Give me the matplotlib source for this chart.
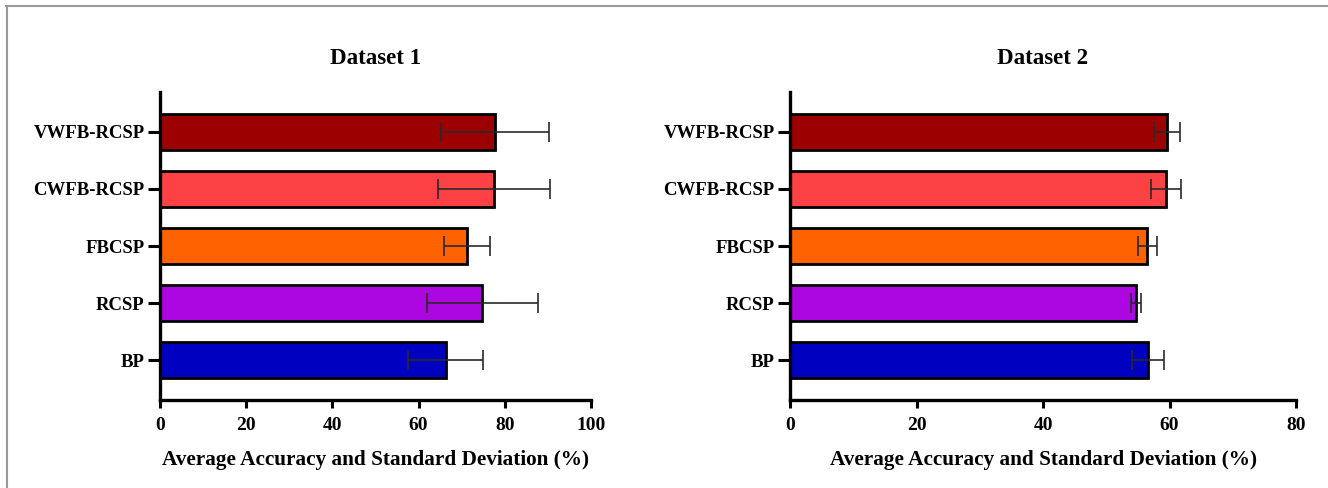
import matplotlib
matplotlib.use("Agg")
import matplotlib.pyplot as plt
from matplotlib.lines import Line2D

methods = ["BP", "RCSP", "FBCSP", "CWFB-RCSP", "VWFB-RCSP"]
colors = ["#0000c0", "#ac07e0", "#ff6200", "#fc4245", "#9c0000"]

d1_mean = [66.3, 74.8, 71.3, 77.5, 77.8]
d1_std = [8.7, 12.9, 5.3, 12.9, 12.5]
d2_mean = [56.6, 54.7, 56.5, 59.4, 59.6]
d2_std = [2.5, 0.75, 1.5, 2.4, 2.1]

titles = ["Dataset 1", "Dataset 2"]
xlabel = "Average Accuracy and Standard Deviation (%)"
xlims = [100, 80]
xticks = [[0, 20, 40, 60, 80, 100], [0, 20, 40, 60, 80]]

plt.rcParams["font.family"] = ["Liberation Serif", "DejaVu Serif"]
plt.rcParams["font.weight"] = "bold"

W, H = 1328, 488
fig = plt.figure(figsize=(W / 100, H / 100), dpi=100)

boxes = [(160, 591), (790, 1296)]
top_px, bot_px = 92, 400
data = [(d1_mean, d1_std), (d2_mean, d2_std)]

for i, ((x0, x1), (m, s)) in enumerate(zip(boxes, data)):
    ax = fig.add_axes([x0 / W, 1 - bot_px / H, (x1 - x0) / W, (bot_px - top_px) / H])
    y = list(range(len(methods)))
    ax.barh(y, m, height=0.63, color=colors, edgecolor="black", linewidth=2.0, zorder=2)
    ax.errorbar(m, y, xerr=s, fmt="none", ecolor="#2a2a2a", elinewidth=1.2,
                capsize=7, capthick=1.2, zorder=3)
    ax.set_xlim(0, xlims[i])
    ax.set_ylim(-0.7, 4.7)
    ax.set_yticks(y)
    ax.set_yticklabels(methods, fontsize=13.5, fontweight="bold")
    ax.set_xticks(xticks[i])
    ax.set_xticklabels([str(t) for t in xticks[i]], fontsize=14, fontweight="bold")
    for side in ["top", "right"]:
        ax.spines[side].set_visible(False)
    for side in ["left", "bottom"]:
        ax.spines[side].set_linewidth(2.4)
    ax.tick_params(axis="x", length=5.5, width=2.2, pad=7, direction="out")
    ax.tick_params(axis="y", length=9, width=2.2, pad=2, direction="out")
    ax.set_xlabel(xlabel, fontsize=15.3, fontweight="bold", labelpad=11)
    ax.set_title(titles[i], fontsize=16.5, fontweight="bold", pad=20)

# gray border at top and left
fig.add_artist(Line2D([6 / W, 1.0], [1 - 6 / H, 1 - 6 / H], transform=fig.transFigure,
                      color="#999999", linewidth=1.5))
fig.add_artist(Line2D([7 / W, 7 / W], [0, 1 - 6 / H], transform=fig.transFigure,
                      color="#999999", linewidth=1.5))

fig.savefig("out.png", dpi=100)
